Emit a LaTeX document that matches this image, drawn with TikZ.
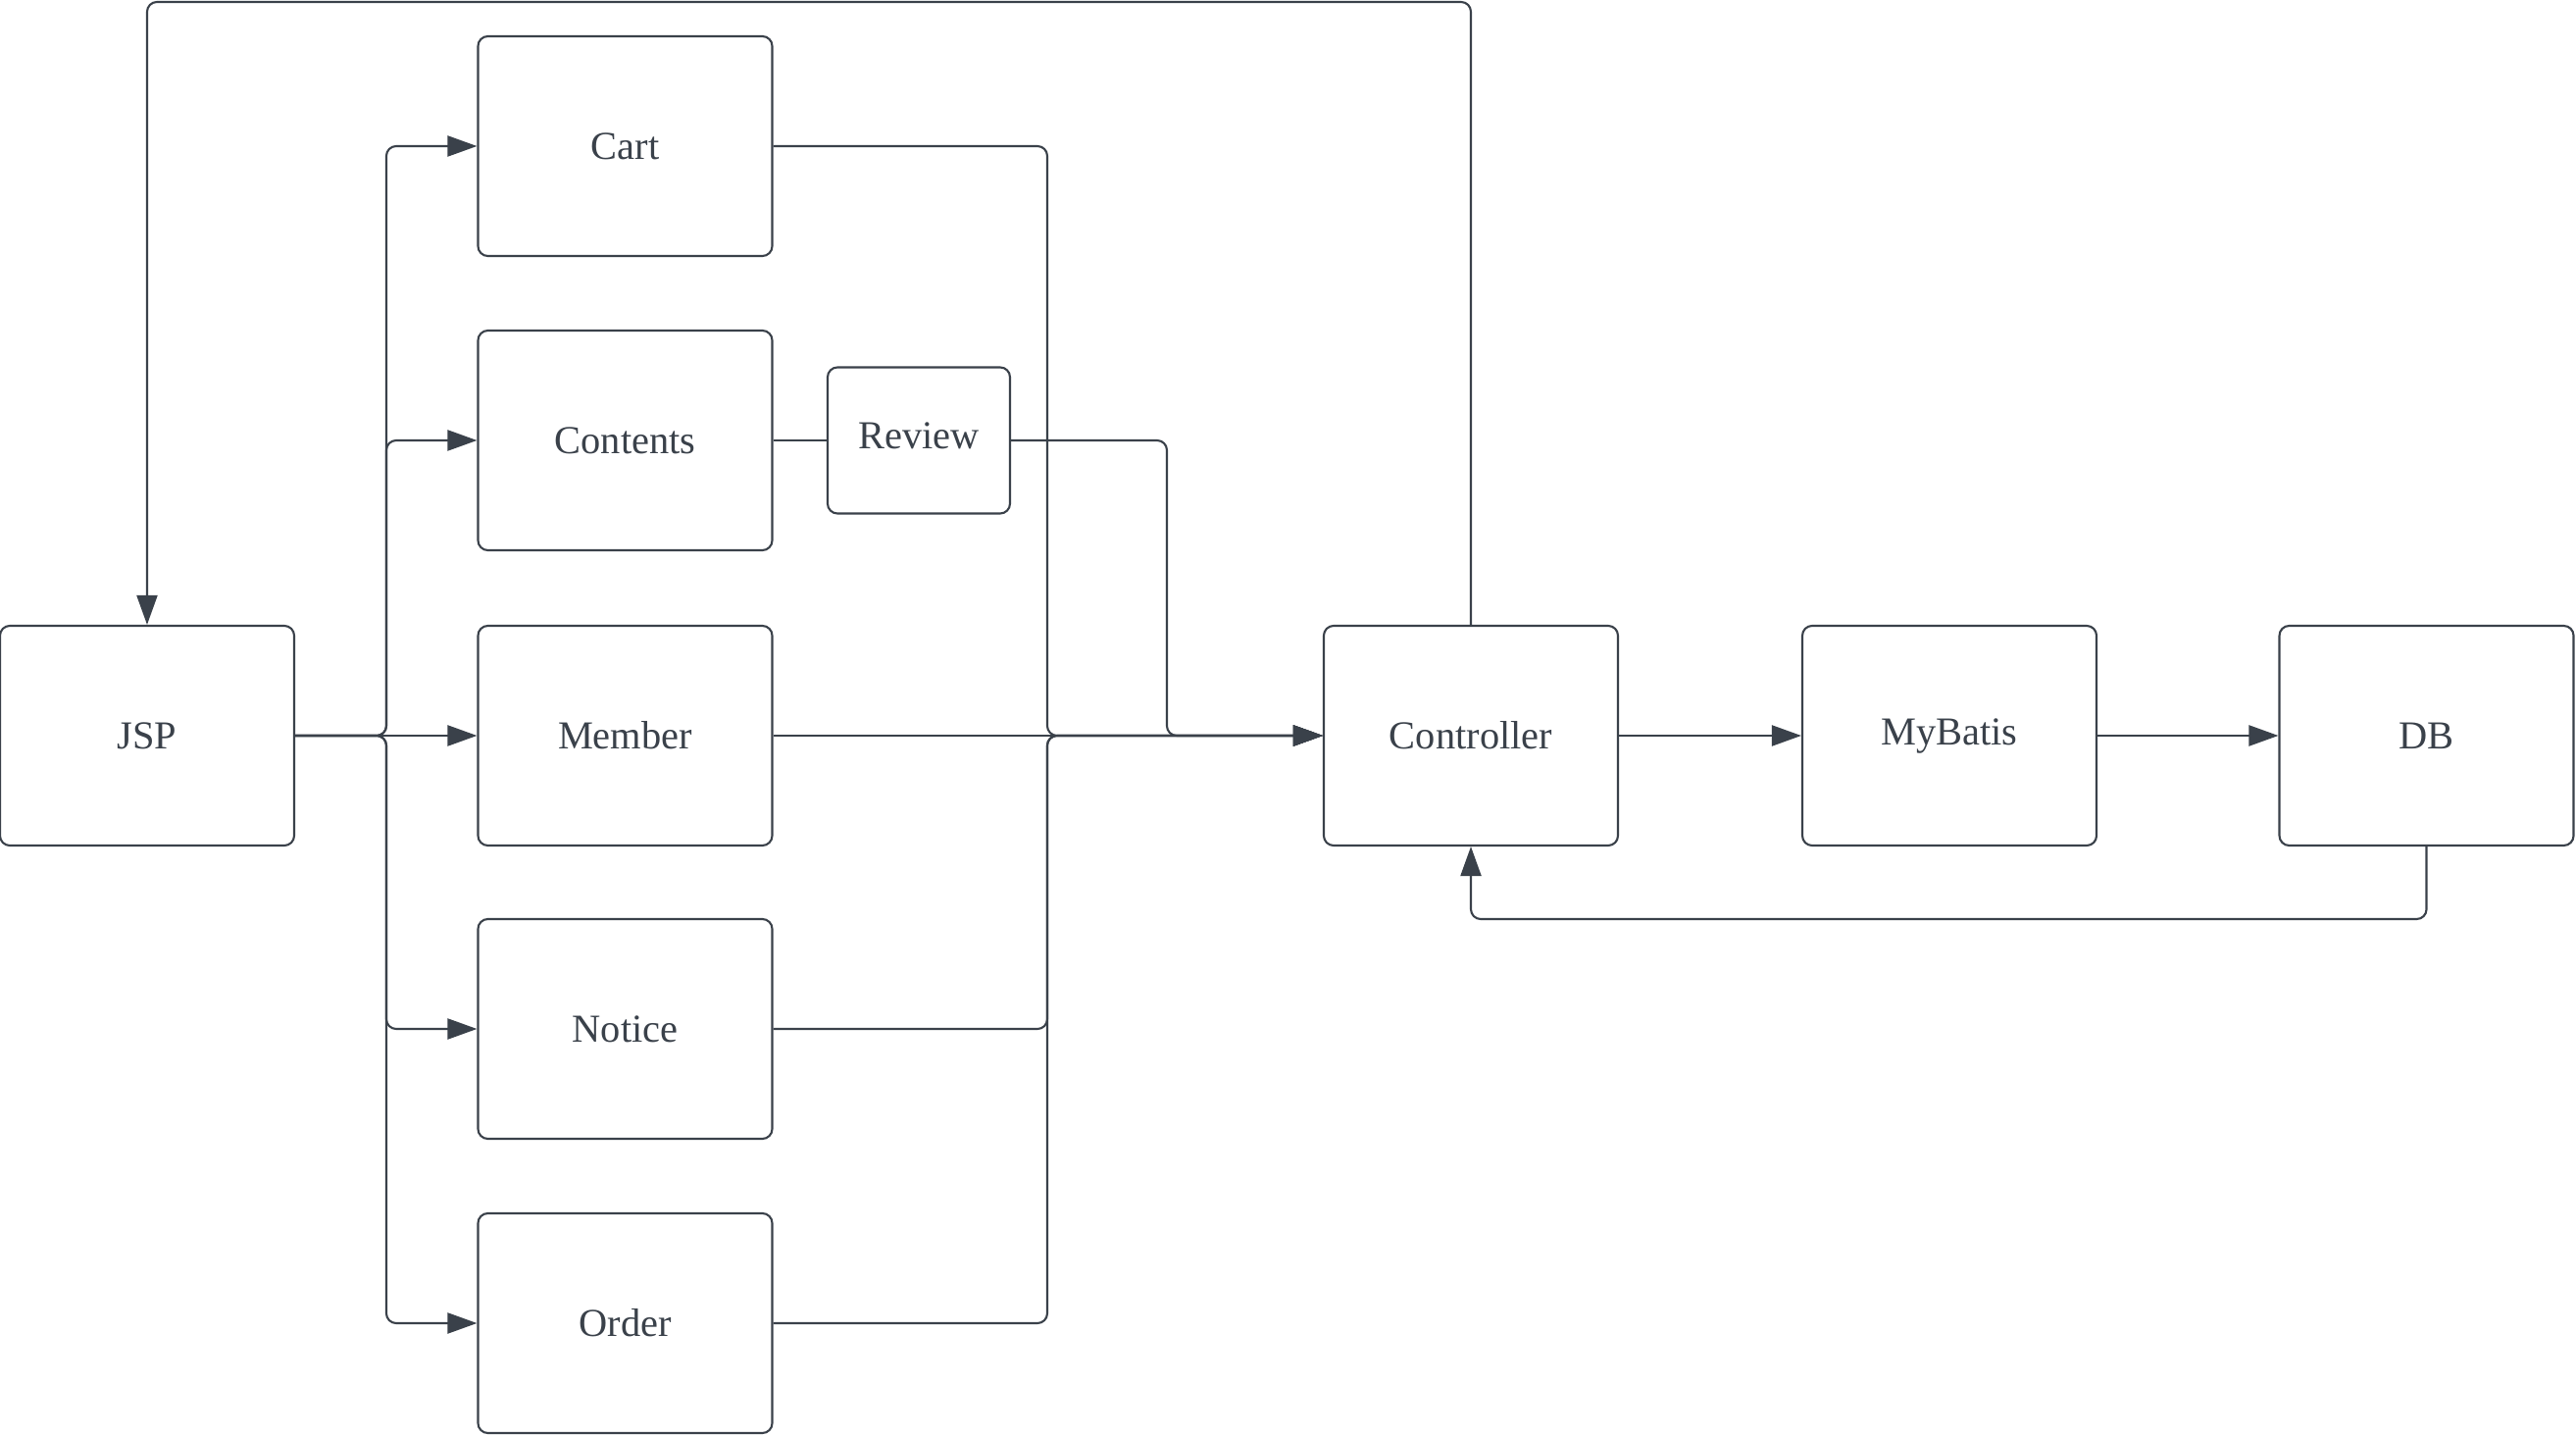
\documentclass[tikz,border=0pt]{standalone}
\usepackage{fontspec}
\setmainfont{Liberation Serif}
\usetikzlibrary{arrows.meta}
\definecolor{ink}{RGB}{58,65,74}
\tikzset{
  box/.style={shape=rectangle,draw=ink,line width=0.6pt,rounded corners=0.1cm,
    minimum width=3cm,minimum height=2.24cm,text=ink,font=\fontsize{11.5}{14}\selectfont},
  small/.style={box,minimum width=1.86cm,minimum height=1.49cm,text depth=3pt},
  conn/.style={draw=ink,line width=0.6pt,rounded corners=0.1cm},
  arr/.style={conn,-{Triangle[length=0.3cm,width=0.21cm]}}
}
\begin{document}
\begin{tikzpicture}
\useasboundingbox (0,0) rectangle (26.27,14.63);
\node(jsp) at (1.5,7.13)[box]        {JSP};
\node(cart) at (6.375,13.14)[box]    {Cart};
\node(contents) at (6.375,10.14)[box] {Contents};
\node(member) at (6.375,7.13)[box]   {Member};
\node(notice) at (6.375,4.14)[box]   {Notice};
\node(order) at (6.375,1.14)[box]    {Order};
\node(review) at (9.37,10.14)[small] {Review};
\node(ctrl) at (15,7.13)[box]        {Controller};
\node(mybatis) at (19.88,7.13)[box]  {MyBatis};
\node(db) at (24.745,7.13)[box]      {DB};

\coordinate(lbus) at (3.94,7.13);
\coordinate(rbus) at (10.68,7.13);
\coordinate(vbus) at (11.9,7.13);
\coordinate(top) at (15,14.61);
\coordinate(loop) at (24.745,5.26);

% JSP fans out
\draw[arr] (jsp.east) -- (lbus) |- (cart.west);
\draw[arr] (jsp.east) -- (lbus) |- (contents.west);
\draw[arr] (jsp.east) -- (member.west);
\draw[arr] (jsp.east) -- (lbus) |- (notice.west);
\draw[arr] (jsp.east) -- (lbus) |- (order.west);

% into the controller
\draw[conn] (contents.east) -- (review.west);
\draw[arr] (cart.east) -| (rbus) -- (ctrl.west);
\draw[arr] (review.east) -| (vbus) -- (ctrl.west);
\draw[arr] (member.east) -- (ctrl.west);
\draw[arr] (notice.east) -| (rbus) -- (ctrl.west);
\draw[arr] (order.east) -| (rbus) -- (ctrl.west);

\draw[arr] (ctrl.east) -- (mybatis.west);
\draw[arr] (mybatis.east) -- (db.west);
\draw[arr] (db.south) -- (loop) -| (ctrl.south);
\draw[arr] (ctrl.north) -- (top) -| (jsp.north);
\end{tikzpicture}
\end{document}
